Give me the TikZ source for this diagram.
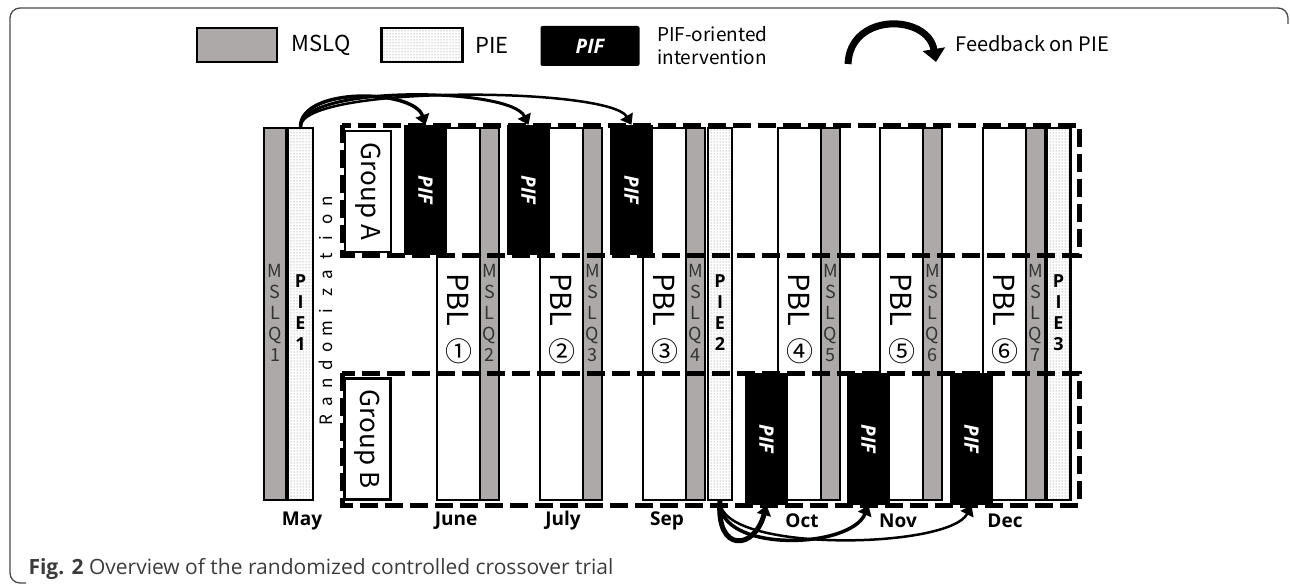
\documentclass[tikz,border=0pt]{standalone}
\usepackage{fontspec}
\setmainfont{Noto Sans CJK JP}
\newfontfamily\capfont{Open Sans}
\usepackage{xcolor}
\usepackage{tikz}
\usetikzlibrary{arrows.meta, positioning, patterns}
\definecolor{mslqgray}{HTML}{ADA9A8}
\definecolor{figframe}{HTML}{4A4A4A}
\definecolor{captext}{HTML}{3C3C3C}

\begin{document}
\begin{tikzpicture}[x=1pt, y=-1pt,
  colbox/.style={draw=black, line width=2.5pt, inner sep=0pt, minimum height=372},
  mslqcol/.style={colbox, fill=mslqgray, minimum width=19},
  piecol/.style={colbox, pattern=dots, pattern color=black!55, minimum width=24},
  pblcol/.style={colbox, fill=white, minimum width=43},
  pifcol/.style={fill=black, inner sep=0pt, minimum width=43},
  pifword/.style={text=white, font=\capfont\bfseries\itshape\fontsize{20}{22}\selectfont},
  grpbox/.style={draw=black, line width=2.5pt, fill=white, inner sep=0pt,
    minimum width=121, minimum height=46, rotate=-90, font=\fontsize{26}{30}\selectfont},
  grpframe/.style={line width=5pt, dash pattern=on 18pt off 7pt},
  stacklab/.style={align=center, font=\fontsize{18}{21}\selectfont, text=black!80},
  pielab/.style={align=center, font=\capfont\bfseries\fontsize{18}{21}\selectfont},
  pbllab/.style={rotate=-90, font=\fontsize{29}{32}\selectfont},
  numlab/.style={font=\fontsize{27}{30}\selectfont},
  month/.style={font=\capfont\bfseries\fontsize{19}{22}\selectfont},
  feedback/.style={-{Triangle[width=14pt,length=10pt]}},
  legtext/.style={font=\fontsize{22}{24}\selectfont, anchor=west}]
\useasboundingbox (0,0) rectangle (1290,586);
% panel border
\draw[figframe, line width=1.3pt, rounded corners=10pt] (1288,24) |- (10,8) |- (26,583);

% Legend
\node[mslqcol, minimum height=34, minimum width=80] (legmslq) at (237,45) {};
\node[legtext, right=10pt of legmslq] (legmslqtxt) {MSLQ};
\node[piecol, minimum height=34, minimum width=81] (legpie) at (422,45) {};
\node[legtext, right=8pt of legpie] (legpietxt) {PIE};
\node[pifcol, minimum height=40, minimum width=99, rounded corners=2pt] (legpif) at (590,46) {};
\node[pifword] (legpifword) at (legpif) {PIF};
\node[legtext, align=left, font=\fontsize{19}{23}\selectfont, right=14pt of legpif] (legpiftxt) {PIF-oriented\\intervention};
\coordinate (fbstart) at (848,64);
\coordinate (fbend) at (936,62);
\draw[line width=7pt, -{Triangle[width=22pt,length=13pt]}] (fbstart) .. controls (850,12) and (928,14) .. (fbend);
\node[legtext, font=\fontsize{20}{24}\selectfont] (legfbtxt) at (952,44) {Feedback on PIE};

% May: MSLQ1 and PIE1
\node[mslqcol, minimum width=22] (mslq1) at (275,314) {};
\node[piecol, minimum width=25] (pie1) at (300.5,314) {};
\node[stacklab] (mslqlab1) at (275,313) {M\\S\\L\\Q\\1};
\node[pielab] (pielab1) at (300.5,313) {P\\I\\E\\1};

% Randomization, one letter at a time
\foreach \ch [count=\k from 0] in {R,a,n,d,o,m,i,z,a,t,i,o,n}
  \node[rotate=90, anchor=base, font=\fontsize{17}{20}\selectfont] (rnd\k) at (332,420-18.2*\k) {\ch};

% PBL blocks with MSLQ after each
\foreach \L/\n/\m in {437/1/2, 540/2/3, 643/3/4, 778/4/5, 880/5/6, 983/6/7} {
  \node[pblcol] (pbl\n) at (\L+21.5,314) {};
  \node[mslqcol] (mslq\m) at (\L+52.5,314) {};
  \node[stacklab] (mslqlab\m) at (\L+52.5,313) {M\\S\\L\\Q\\\m};
}
% PIE2 and PIE3
\node[piecol] (pie2) at (720,314) {};
\node[pielab] (pielab2) at (720,313) {P\\I\\E\\2};
\node[piecol] (pie3) at (1058.5,314) {};
\node[pielab] (pielab3) at (1058.5,313) {P\\I\\E\\3};

% PIF: group A in June-Sep, group B in Oct-Dec
\foreach \L/\n/\y/\h in {437/1/190/130, 540/2/190/130, 643/3/190/130,
                         778/4/439/132, 880/5/439/132, 983/6/439/132} {
  \node[pifcol, minimum height=\h] (pif\n) at (\L-11.5,\y) {};
  \node[pifword, rotate=-90] (pifword\n) at (pif\n) {PIF};
}

% Group frames
\draw[grpframe] (342,125) rectangle (1079,255);
\draw[grpframe] (342,373) rectangle (1079,505);
\node[grpbox] (grpA) at (368,191.5) {Group A};
\node[grpbox] (grpB) at (367.5,439) {Group B};

% PBL labels
\foreach \L/\n/\c in {437/1/①, 540/2/②, 643/3/③, 778/4/④, 880/5/⑤, 983/6/⑥} {
  \node[pbllab] (pbllab\n) at (\L+21.5,300) {PBL};
  \node[numlab] (num\n) at (\L+21.5,351) {\c};
}

% Feedback on PIE1 to group A
\draw[feedback, line width=3.5pt] (pie1.north) .. controls +(0,-40) and +(-12,-36) .. (pif1.north);
\draw[feedback, line width=3pt] (pie1.north) .. controls +(0,-42) and +(-18,-38) .. (pif2.north);
\draw[feedback, line width=2.5pt] (pie1.north) .. controls +(0,-42) and +(-22,-38) .. (pif3.north);
% Feedback on PIE2 to group B
\draw[feedback, line width=5pt] (pie2.south) .. controls +(-4,52) and +(-12,45) .. (pif4.south);
\draw[feedback, line width=3.5pt] (pie2.south) .. controls +(-2,52) and +(-18,44) .. (pif5.south);
\draw[feedback, line width=2.5pt] (pie2.south) .. controls +(0,52) and +(-22,44) .. (pif6.south);

% Months
\foreach \mon/\x in {May/302, June/456, July/563, Sep/667, Oct/802, Nov/898, Dec/1005}
  \node[month] (mon\mon) at (\x,521) {\mon};

% Caption
\node[anchor=west, text=captext, font=\capfont\fontsize{21}{24}\selectfont] (caption) at (25,569)
  {\textbf{Fig. 2} Overview of the randomized controlled crossover trial};
\end{tikzpicture}
\end{document}
